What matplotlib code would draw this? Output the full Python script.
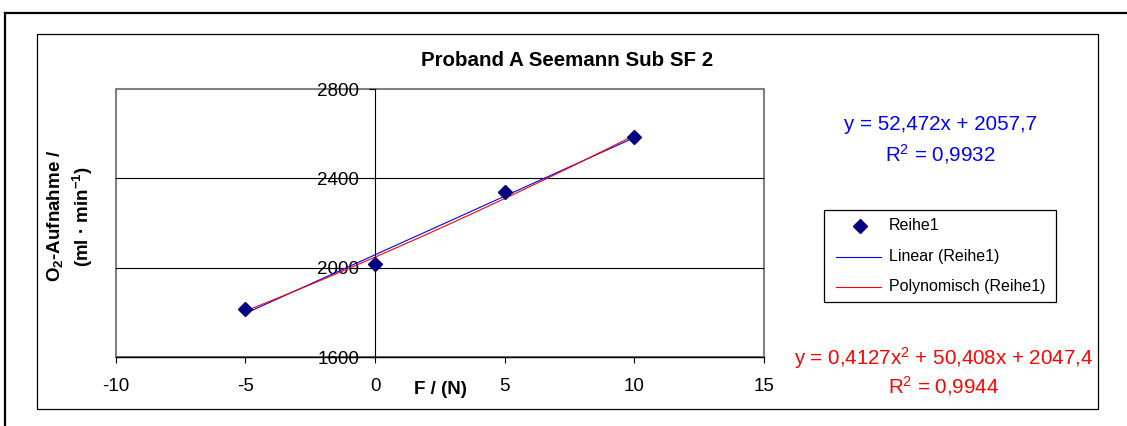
import numpy as np
import matplotlib
matplotlib.use("Agg")
import matplotlib.pyplot as plt
from matplotlib.lines import Line2D
from matplotlib.patches import Rectangle

plt.rcParams['font.family'] = ['Liberation Sans', 'DejaVu Sans']
plt.rcParams['mathtext.fontset'] = 'custom'
plt.rcParams['mathtext.rm'] = 'Liberation Sans'
plt.rcParams['mathtext.bf'] = 'Liberation Sans:bold'
plt.rcParams['mathtext.it'] = 'Liberation Sans:italic'
plt.rcParams['axes.unicode_minus'] = False

# ---- data ----
force = [-5, 0, 5, 10]
o2_uptake = [1815.5, 2017.9, 2339.2, 2582.9]
x_ticks = [-10, -5, 0, 5, 10, 15]
y_ticks = [1600, 2000, 2400, 2800]
title = "Proband A Seemann Sub SF 2"
series_name = "Reihe1"
lin_name = "Linear (Reihe1)"
poly_name = "Polynomisch (Reihe1)"
lin_eq = "y = 52,472x + 2057,7"
lin_r2 = r"R$^\mathrm{2}$ = 0,9932"
poly_eq = r"y = 0,4127x$^\mathrm{2}$ + 50,408x + 2047,4"
poly_r2 = r"R$^\mathrm{2}$ = 0,9944"

W, H = 1127, 426
fig = plt.figure(figsize=(W / 100, H / 100), dpi=100)


def fx(px):
    return px / W


def fy(py):
    return 1 - py / H


# outer frame (clipped at right/bottom)
fig.add_artist(Line2D([fx(5), fx(5)], [fy(440), fy(13)], color='black', lw=1.6,
                      transform=fig.transFigure))
fig.add_artist(Line2D([fx(5), fx(1140)], [fy(13), fy(13)], color='black', lw=1.6,
                      transform=fig.transFigure))
# chart area border
fig.add_artist(Rectangle((fx(37), fy(409)), fx(1098) - fx(37), fy(34) - fy(409),
                         fill=False, edgecolor='black', lw=0.9,
                         transform=fig.transFigure))

# plot area
L, R, T, B = 115.7, 764, 89, 357
ax = fig.add_axes([fx(L), fy(B), fx(R) - fx(L), fy(T) - fy(B)])
ax.set_xlim(x_ticks[0], x_ticks[-1])
ax.set_ylim(y_ticks[0], y_ticks[-1])

for s in ['top', 'right']:
    ax.spines[s].set_visible(False)
ax.spines['left'].set_position(('data', 0))
ax.spines['left'].set_color('black')
ax.spines['left'].set_linewidth(0.8)
ax.spines['bottom'].set_color('black')
ax.spines['bottom'].set_linewidth(1.0)
ax.spines['bottom'].set_zorder(5)

# gray plot-area border
ax.add_patch(Rectangle((0, 0), 1, 1, transform=ax.transAxes, fill=False,
                       edgecolor='#808080', lw=1.5, zorder=1, clip_on=False))

ax.set_xticks(x_ticks)
ax.set_yticks(y_ticks)
ax.tick_params(axis='x', direction='out', length=4, width=0.8, pad=11, labelsize=13.5)
ax.tick_params(axis='y', direction='out', length=4.5, width=0.8, pad=7, labelsize=13.5)

for yv in y_ticks[1:-1]:
    ax.axhline(yv, color='black', lw=0.8, zorder=1)

# trendlines
lin_c = np.polyfit(force, o2_uptake, 1)
poly_c = np.polyfit(force, o2_uptake, 2)
xs = np.linspace(min(force), max(force), 100)
ax.plot(xs, np.polyval(lin_c, xs), color='#0000FF', lw=0.8, zorder=3)
ax.plot(xs, np.polyval(poly_c, xs), color='#FF0000', lw=0.8, zorder=3)
ax.plot(force, o2_uptake, linestyle='none', marker='D', ms=7,
        color='#000080', zorder=4)

# titles & labels
fig.text(fx(567), fy(60), title, ha='center', va='center', fontsize=14.8,
         fontweight='bold')
fig.text(fx(440), fy(390), "F / (N)", ha='center', va='center', fontsize=13.5,
         fontweight='bold')
fig.text(fx(70), fy(216), "O$_\\mathbf{2}$-Aufnahme /\n(ml · min$^\\mathbf{-1}$)",
         rotation=90, ha='center', va='center', multialignment='center',
         fontsize=13.5, fontweight='bold', linespacing=1.35)

# equations
fig.text(fx(940), fy(125), lin_eq, ha='center', va='center', fontsize=14.8,
         color='#0000FF')
fig.text(fx(940), fy(154), lin_r2, ha='center', va='center', fontsize=14.8,
         color='#0000FF')
fig.text(fx(944), fy(358), poly_eq, ha='center', va='center', fontsize=14.8,
         color='#FF0000')
fig.text(fx(944), fy(386), poly_r2, ha='center', va='center', fontsize=14.8,
         color='#FF0000')

# legend (manual)
fig.add_artist(Rectangle((fx(824), fy(302)), fx(1056) - fx(824), fy(210) - fy(302),
                         fill=False, edgecolor='black', lw=0.9,
                         transform=fig.transFigure))
rows = [226, 257, 287]
fig.add_artist(Line2D([fx(860)], [fy(rows[0])], marker='D', ms=7, color='#000080',
                      linestyle='none', transform=fig.transFigure))
fig.add_artist(Line2D([fx(836), fx(881)], [fy(rows[1])] * 2, color='#0000FF', lw=0.8,
                      transform=fig.transFigure))
fig.add_artist(Line2D([fx(836), fx(881)], [fy(rows[2])] * 2, color='#FF0000', lw=0.8,
                      transform=fig.transFigure))
for r, lab in zip(rows, [series_name, lin_name, poly_name]):
    fig.text(fx(889), fy(r), lab, ha='left', va='center', fontsize=11.5)

fig.savefig("out.png", dpi=100)
